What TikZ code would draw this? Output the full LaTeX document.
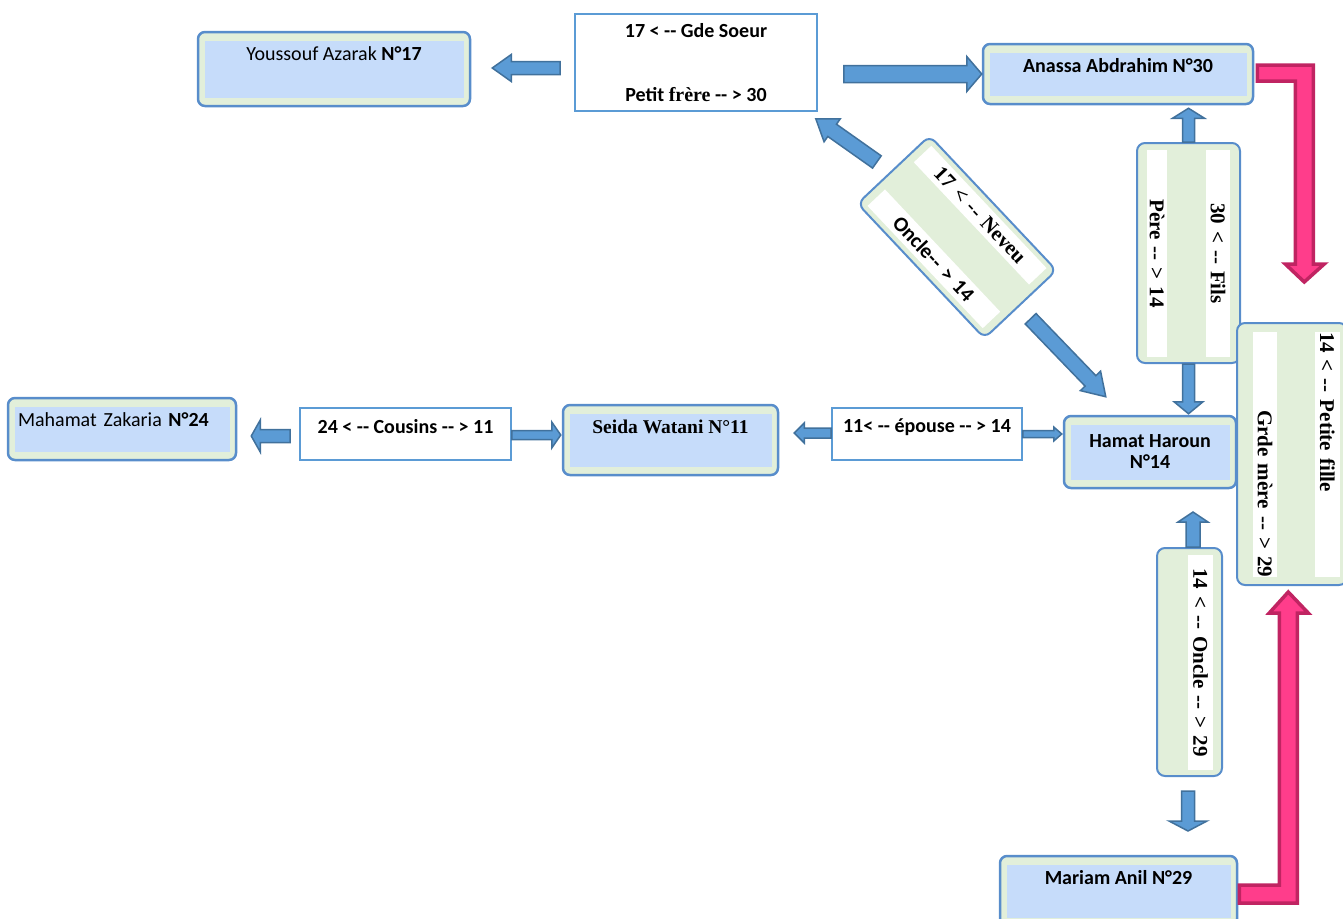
\documentclass[tikz,border=0pt]{standalone}
\usepackage{fontspec}
\setmainfont{Liberation Serif}
\setsansfont{Carlito}
\usetikzlibrary{calc}
\definecolor{boxgreen}{RGB}{226,239,218}
\definecolor{boxblue}{RGB}{198,220,250}
\definecolor{boxline}{RGB}{88,141,203}
\definecolor{arrfill}{RGB}{91,155,213}
\definecolor{arrline}{RGB}{65,113,156}
\definecolor{pinkfill}{RGB}{255,61,139}
\definecolor{pinkline}{RGB}{192,36,98}
\newcommand\blockarrow[6][]{%
  \path[blockarr,#1] ($(#2)!#4!90:(#3)$)
    -- ($(#3)!#6!(#2)!#4!-90:(#2)$)
    -- ($(#3)!#6!(#2)!#5!-90:(#2)$)
    -- (#3)
    -- ($(#3)!#6!(#2)!#5!90:(#2)$)
    -- ($(#3)!#6!(#2)!#4!90:(#2)$)
    -- ($(#2)!#4!-90:(#3)$) -- cycle;}

\begin{document}
\begin{tikzpicture}[x=1pt, y=-1pt,
    person/.style={rectangle, draw=boxline, line width=2.5pt, fill=boxgreen, rounded corners=7pt, inner sep=0pt, align=center,
      font=\sffamily\bfseries\fontsize{20}{21}\selectfont,
      path picture={\fill[boxblue, sharp corners] ([shift={(6.5pt,-9pt)}]path picture bounding box.north west) rectangle ([shift={(-6.5pt,8pt)}]path picture bounding box.south east);}},
    top/.style={text height=28pt, text depth=#1},
    txtbox/.style={rectangle, draw=arrfill, line width=1.6pt, fill=white, inner sep=0pt, align=center, font=\sffamily\bfseries\fontsize{20}{24}\selectfont},
    relbox/.style={rectangle, draw=boxline, line width=2pt, fill=boxgreen, rounded corners=8pt},
    strip/.style={rectangle, fill=white, inner sep=0pt, font=\rmfamily\bfseries\fontsize{21}{24}\selectfont},
    blockarr/.style={fill=arrfill, draw=arrline, line width=1.5pt, line join=miter},
    pinkarr/.style={fill=pinkfill, draw=pinkline, line width=3.5pt, line join=miter}]
    \useasboundingbox (0,0) rectangle (1343,918);
    \node (yous) at (334,69) [person, top=46pt, minimum width=272pt, minimum height=74pt] {{\mdseries Youssouf Azarak} N°17};
    \node (anassa) at (1118,74) [person, top=32pt, minimum width=270pt, minimum height=60pt] {Anassa Abdrahim N°30};
    \node (mahamat) at (122,429) [person, top=34pt, minimum width=228pt, minimum height=62pt, text width=208pt, align=left] {{\mdseries Mahamat Zakaria} N°24};
    \node (seida) at (670.5,440) [person, top=42pt, minimum width=215pt, minimum height=70pt] {\rmfamily\fontsize{19.5}{22}\selectfont Seida Watani N°11};
    \node (hamat) at (1150,452) [person, minimum width=172pt, minimum height=72pt] {Hamat Haroun\\N°14};
    \node (mariam) at (1118.5,891) [person, top=42pt, minimum width=237pt, minimum height=70pt] {Mariam Anil N°29};
    \node (gde) at (696,62.5) [txtbox, minimum width=242pt, minimum height=97pt] {17 < -{}- Gde Soeur\\[40pt]Petit {\rmfamily frère} -{}- > 30};
    \node (cousins) at (405.5,434) [txtbox, text height=25pt, text depth=27pt, minimum width=211pt] {24 < -{}- Cousins -{}- > 11};
    \node (epouse) at (927,434) [txtbox, text height=24pt, text depth=28pt, minimum width=190pt] {11< -{}- épouse -{}- > 14};
    \node (pere) at (1188.5,253) [relbox, minimum width=103pt, minimum height=220pt] {};
    \node (pere1) at ($(pere.center)+(-31.5,0.5)$) [strip, rotate=-90, text width=207pt, minimum height=20pt, align=center] {Père -{}- > 14};
    \node (pere2) at ($(pere.center)+(29.5,0.5)$) [strip, rotate=-90, text width=207pt, minimum height=24pt, align=center] {30 < -{}- Fils};
    \node (grde) at (1292,454) [relbox, minimum width=110pt, minimum height=262pt] {};
    \node (grde1) at ($(grde.center)+(-27,0.5)$) [strip, rotate=-90, text width=245pt, minimum height=24pt, align=right] {Grde mère -{}- > 29};
    \node (grde2) at ($(grde.center)+(35.5,0.5)$) [strip, rotate=-90, text width=245pt, minimum height=25pt, align=left] {14 < -{}- Petite fille};
    \node (oncle) at (1189.5,662) [relbox, minimum width=65pt, minimum height=228pt] {};
    \node (oncle1) at ($(oncle.center)+(11,0.5)$) [strip, rotate=-90, text width=215pt, minimum height=25pt, align=center] {14 < -{}- Oncle -{}- > 29};
    \node (neveu) at (957,237) [relbox, rotate=-46.7, minimum width=185pt, minimum height=99pt] {};
    \node (neveu1) at ($(neveu.center)!0.63!(neveu.north)$) [strip, rotate=-46.7, text width=168pt, minimum height=24pt, align=center] {17 < -{}- Neveu};
    \node (neveu2) at ($(neveu.center)!0.63!(neveu.south)$) [strip, rotate=-46.7, text width=168pt, minimum height=24pt, align=center, font=\sffamily\bfseries\fontsize{21}{24}\selectfont] {Oncle-{}- > 14};
    \blockarrow{$(gde.west)+(-14,5.5)$}{$(yous.east)+(21,-1)$}{6.5pt}{13.5pt}{19pt}
    \blockarrow{$(gde.east)+(26,11.5)$}{anassa.west}{8.5pt}{17.5pt}{15pt}
    \blockarrow{$(neveu.west)+(-16,-7)$}{$(gde.south east)+(-2,7)$}{7.5pt}{14pt}{20pt}
    \blockarrow{$(neveu.east)+(9.5,13.7)$}{$(hamat.north west)+(43,-18)$}{7.5pt}{14pt}{22pt}
    \blockarrow{pere.north}{$(pere.north |- anassa.south)+(0,3)$}{6pt}{16pt}{10pt}
    \blockarrow{pere.south}{$(pere.south |- hamat.north)+(0,-1)$}{6pt}{14.5pt}{12pt}
    \blockarrow{$(oncle.north)+(3.5,0)$}{$(oncle.north)+(3.5,-35)$}{7pt}{15pt}{10pt}
    \blockarrow{$(oncle.south)+(-1.5,14)$}{$(oncle.south)+(-1.5,54)$}{6.5pt}{19pt}{10pt}
    \blockarrow{$(cousins.west)+(-9,2)$}{$(mahamat.east)+(14,7)$}{6.5pt}{16pt}{9pt}
    \blockarrow{$(cousins.east)+(0,1)$}{$(seida.west)+(-1,-5)$}{4.5pt}{13pt}{9pt}
    \blockarrow{$(epouse.west)+(0,-1)$}{$(seida.east)+(15,-7)$}{5pt}{10pt}{10pt}
    \blockarrow{epouse.east}{$(hamat.west)+(-1,-18)$}{3.5pt}{7pt}{8pt}
    \path[pinkarr] ($(anassa.east)+(3,-9)$) -- ++(56,0) -- ++(0,199) -- ++(11,0) -- ++(-20,18) coordinate (pk1) -- ++(-19,-18) -- ++(10,0) -- ++(0,-183) -- ++(-38,0) -- cycle;
    \path[pinkarr] ($(mariam.east)+(1,-6)$) -- ++(40,0) -- ++(0,-272) -- ++(-10,0) -- ++(19,-21) coordinate (pk2) -- ++(20,21) -- ++(-11,0) -- ++(0,290) -- ++(-58,0) -- cycle;
\end{tikzpicture}
\end{document}
